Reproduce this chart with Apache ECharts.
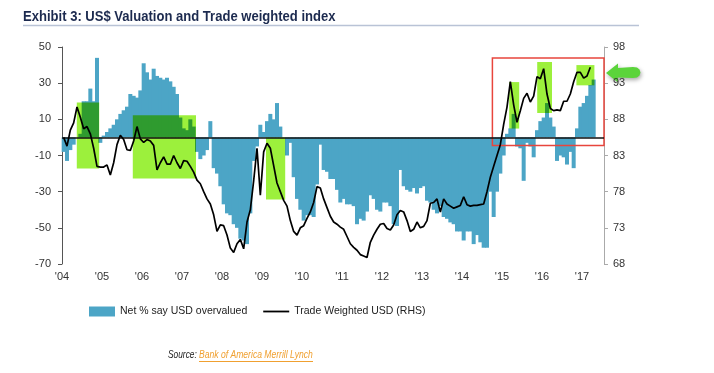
<!DOCTYPE html>
<html><head><meta charset="utf-8">
<script src="https://cdn.jsdelivr.net/npm/echarts@6/dist/echarts.min.js"></script>
<style>html,body{margin:0;padding:0;background:#fff}#c{width:714px;height:373px}</style>
</head><body><div id="c"></div>
<script>
// ---- data ----
const startYear = 2004;
const yearLabels = ["'04","'05","'06","'07","'08","'09","'10","'11","'12","'13","'14","'15","'16","'17"];
// Net % say USD overvalued (monthly, Jan 2004 - Apr 2017)
const overvalued = [
  -8,-13,-7,-4,0,2,20,20,27,20,44,-3,
  1,3,5,7,10,13,15,17,24,23,22,26,
  41,36,32,38,34,33,32,33,31,28,24,11,
  5,4,10,6,-8,-12,-10,-7,9,-17,-20,-27,
  -37,-42,-43,-48,-50,-56,-57,-59,-42,-13,-5,7,
  3,9,13,10,19,6,0,-10,-3,-22,-34,-40,
  -46,-43,-43,-44,-26,-4,-18,-19,-23,-23,-29,-36,
  -34,-37,-37,-38,-48,-45,-46,-41,-32,-34,-40,-41,
  -36,-36,-38,-48,-49,-18,-27,-29,-30,-28,-31,-28,
  -27,-35,-36,-40,-42,-38,-44,-45,-47,-48,-52,-52,
  -57,-52,-52,-59,-54,-58,-61,-61,-30,-44,-30,-20,
  -10,2,5,13,-5,-6,-24,-3,-5,-11,4,9,
  11,19,11,6,-13,-10,-11,-15,-8,-17,5,17,
  19,23,29,32
];
// Trade Weighted USD (RHS)
const tradeWeighted = [
  85.5,84.3,86.5,87.5,89.7,88.3,86.7,87.0,86.0,84.0,81.5,81.4,
  81.4,81.7,80.3,82.0,84.5,85.8,85.2,83.8,83.7,85.0,87.0,85.3,
  84.8,85.2,85.0,84.4,81.0,82.0,82.8,81.8,81.8,83.0,82.0,81.2,
  82.3,82.2,81.5,80.7,79.6,79.1,78.0,77.0,76.3,74.8,72.5,73.4,
  73.3,72.0,70.2,69.6,70.8,71.4,70.1,73.8,75.5,79.5,84.0,77.5,
  83.5,84.7,84.0,81.6,79.2,78.0,76.8,76.0,74.0,72.5,72.0,73.0,
  73.3,74.3,75.2,76.5,78.7,78.5,77.0,75.8,74.6,73.8,73.5,73.1,
  72.8,71.8,70.8,70.3,69.9,69.3,69.1,68.9,71.0,72.0,72.8,73.5,
  73.6,72.9,72.7,73.4,74.8,75.4,75.2,74.0,72.5,72.8,73.8,73.0,
  73.2,74.0,76.4,76.5,77.0,75.2,77.0,76.3,76.0,75.7,75.9,76.1,
  77.3,76.2,76.0,76.1,76.1,76.2,76.3,78.0,80.0,81.5,83.0,84.5,
  87.3,89.7,93.2,90.0,87.6,89.2,90.9,91.6,90.4,91.2,93.9,93.6,
  95.0,91.5,89.5,89.2,89.3,89.2,90.5,90.5,91.5,93.2,94.5,94.5,
  93.7,94.0,95.2,null
];
// highlight zones: [fromYear, toYear, low, high] on left axis
const highlightZones = [
  [2004.37, 2004.93, -17.2, 19.3],
  [2005.77, 2007.35, -22.7, 12.3],
  [2009.10, 2009.58, -34.3, 0],
  [2015.18, 2015.43, 4.9, 30.6],
  [2015.88, 2016.25, 13.5, 41.7],
  [2016.86, 2017.31, 28.8, 40.0]
];
const focusZone = [[2014.76, 2017.55, -4.5, 43.9]];

// ---- build ----
const monthX = i => startYear + (i + 0.5) / 12;
const barData = overvalued.map((v, i) => [monthX(i), v]);
const lineData = tradeWeighted.map((v, i) => [monthX(i), v]);

const FONT = "'Liberation Sans', Arial, sans-serif";

function boxRenderer(style) {
  return function (params, api) {
    const p0 = api.coord([api.value(0), api.value(3)]);
    const p1 = api.coord([api.value(1), api.value(2)]);
    return { type: 'rect', shape: { x: p0[0], y: p0[1], width: p1[0] - p0[0], height: p1[1] - p0[1] }, style: style };
  };
}

const chart = echarts.init(document.getElementById('c'), null, { renderer: 'canvas' });
chart.setOption({
  animation: false,
  backgroundColor: '#fff',
  grid: { left: 62, right: 110, top: 47, bottom: 109, containLabel: false },
  legend: {
    left: 84, top: 301, itemWidth: 26, itemHeight: 10, itemGap: 16,
    textStyle: { fontSize: 10.5, color: '#222', fontFamily: FONT },
    data: [
      { name: 'Net % say USD overvalued', icon: 'rect' },
      { name: 'Trade Weighted USD (RHS)', icon: 'path://M0,0 L26,0 L26,1.8 L0,1.8 Z' }
    ]
  },
  xAxis: {
    type: 'value', min: startYear, max: 2017.55, interval: 1,
    axisLine: { show: false }, axisTick: { show: false }, splitLine: { show: false },
    axisLabel: {
      fontSize: 11, color: '#333', fontFamily: FONT, margin: 7,
      formatter: v => Number.isInteger(v) ? (yearLabels[v - startYear] || '') : ''
    }
  },
  yAxis: [
    {
      type: 'value', position: 'left', min: -70, max: 50, interval: 20,
      axisLine: { show: true, lineStyle: { color: '#555', width: 1 } },
      axisTick: { show: true, length: 4, lineStyle: { color: '#555' } },
      splitLine: { show: false },
      axisLabel: { fontSize: 11, color: '#333', fontFamily: FONT, margin: 11 }
    },
    {
      type: 'value', position: 'right', min: 68, max: 98, interval: 5,
      axisLine: { show: true, lineStyle: { color: '#aaa', width: 1 } },
      axisTick: { show: true, length: 4, lineStyle: { color: '#aaa' } },
      splitLine: { show: false },
      axisLabel: { fontSize: 11, color: '#333', fontFamily: FONT, margin: 9 }
    }
  ],
  series: [
    {
      name: 'Net % say USD overvalued', type: 'bar', yAxisIndex: 0, z: 2,
      barWidth: 4, itemStyle: { color: '#4ca5c6', borderWidth: 0 }, data: barData,
      markLine: {
        silent: true, symbol: ['none', 'none'], label: { show: false },
        lineStyle: { color: '#111', width: 1.5, type: 'solid' },
        data: [{ yAxis: 0 }]
      }
    },
    {
      name: 'highlight', type: 'custom', yAxisIndex: 0, z: 3, silent: true,
      blendMode: 'multiply', encode: { x: [0, 1], y: [2, 3] },
      renderItem: boxRenderer({ fill: '#9cf03c' }), data: highlightZones
    },
    {
      name: 'focus', type: 'custom', yAxisIndex: 0, z: 4, silent: true,
      encode: { x: [0, 1], y: [2, 3] },
      renderItem: boxRenderer({ fill: 'none', stroke: '#e8453c', lineWidth: 1.5 }), data: focusZone
    },
    {
      name: 'Trade Weighted USD (RHS)', type: 'line', yAxisIndex: 1, z: 5,
      symbol: 'none', showSymbol: false, itemStyle: { color: '#000' },
      lineStyle: { color: '#000', width: 1.7 }, data: lineData
    }
  ],
  graphic: [
    {
      type: 'text', x: 23, y: 17, scaleX: 0.87,
      style: { text: 'Exhibit 3: US$ Valuation and Trade weighted index', font: 'bold 15px ' + FONT, fill: '#1c2a4f', verticalAlign: 'middle' }
    },
    { type: 'line', shape: { x1: 23, y1: 25.5, x2: 639, y2: 25.5 }, style: { stroke: '#b9c3d6', lineWidth: 1.5 } },
    {
      type: 'polygon',
      shape: { points: [[606,73],[618,63.5],[618,68],[633,67],[637,67.5],[639.5,69.5],[640.5,72.5],[639.5,75.5],[637,77.5],[633,78],[618,77.5],[618,82.5]] },
      style: { fill: '#5bd43b', shadowBlur: 4, shadowColor: 'rgba(0,0,0,0.35)', shadowOffsetY: 2, shadowOffsetX: 1 }
    },
    {
      type: 'text', x: 168, y: 355, scaleX: 0.76,
      style: { text: 'Source:', font: 'italic 11px ' + FONT, fill: '#222', verticalAlign: 'middle' }
    },
    {
      type: 'text', x: 199, y: 355, scaleX: 0.78,
      style: { text: 'Bank of America Merrill Lynch', font: 'italic 11px ' + FONT, fill: '#f0a030', verticalAlign: 'middle' }
    },
    { type: 'line', shape: { x1: 199, y1: 361.5, x2: 313, y2: 361.5 }, style: { stroke: '#f0a030', lineWidth: 1 } }
  ]
});
</script></body></html>
